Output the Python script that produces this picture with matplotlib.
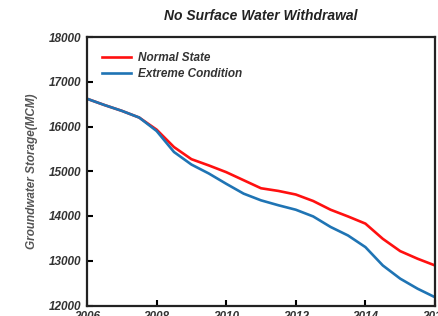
import numpy as np
import matplotlib
matplotlib.use('Agg')
import matplotlib.pyplot as plt

plt.rcParams['font.family'] = ['Liberation Sans', 'DejaVu Sans']

# values, every half year
years = np.arange(2006, 2016.01, 0.5)
normal_state = [16620, 16480, 16350, 16200, 15930, 15540, 15270, 15130, 14980, 14800, 14620,
                14560, 14480, 14335, 14140, 13990, 13830, 13490, 13215, 13045, 12895]
extreme_condition = [16620, 16480, 16350, 16200, 15900, 15430, 15150, 14950, 14720, 14500, 14350,
                     14240, 14140, 13990, 13755, 13565, 13305, 12895, 12600, 12375, 12185]

fig = plt.figure(figsize=(4.38, 3.16), dpi=100)
ax = fig.add_axes([87/438, 1 - 305.5/316, 348/438, 268.5/316])

ax.plot(years, normal_state, color='#ff1010', lw=1.9, label='Normal State',
        solid_joinstyle='round')
ax.plot(years, extreme_condition, color='#1f74b4', lw=1.9, label='Extreme Condition',
        solid_joinstyle='round')

ax.set_xlim(2006, 2016)
ax.set_ylim(12000, 18000)
ax.set_xticks(np.arange(2006, 2017, 2))
ax.set_yticks(np.arange(12000, 18001, 1000))

tick_font = dict(fontsize=8.5, fontweight='bold', fontstyle='italic', color='#333333')
ax.set_xticklabels([str(y) for y in range(2006, 2017, 2)], **tick_font)
ax.set_yticklabels([str(v) for v in range(12000, 18001, 1000)], **tick_font)
ax.tick_params(direction='in', length=4, width=1.5, top=False, right=False, pad=4)

for s in ax.spines.values():
    s.set_linewidth(1.6)
    s.set_color('#222222')

ax.set_title('No Surface Water Withdrawal', fontsize=10, fontweight='bold',
             fontstyle='italic', color='#222222', pad=12)
ax.set_ylabel('Groundwater Storage(MCM)', fontsize=8.5, fontstyle='italic',
              fontweight='bold', color='#555555', labelpad=8)

leg = ax.legend(loc='upper left', frameon=False, handlelength=2.5, handletextpad=0.55,
                borderaxespad=0.85, labelspacing=0.4,
                prop=dict(family='Liberation Sans', size=8.5, weight='bold', style='italic'))
for t in leg.get_texts():
    t.set_color('#333333')

fig.savefig('out.png', dpi=100)
